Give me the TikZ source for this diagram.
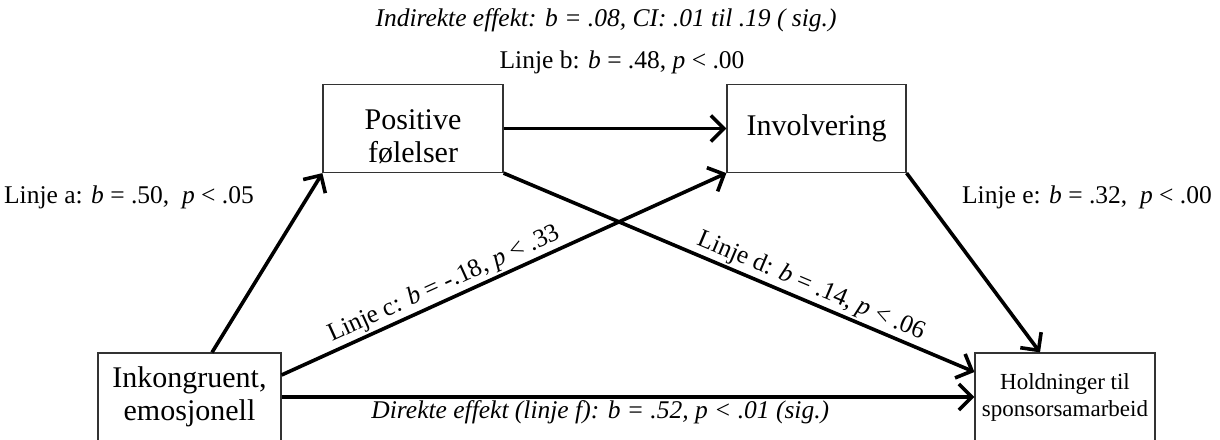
\documentclass[tikz,border=0pt]{standalone}
\usepackage{fontspec}
\setmainfont{Liberation Serif}
\usetikzlibrary{arrows.meta}
\begin{document}
\begin{tikzpicture}[x=1pt,y=-1pt,
  box/.style={draw=black!80, line width=1.2pt, rectangle, minimum width=180pt, minimum height=88pt, align=center, inner sep=0pt},
  bigtxt/.style={font=\fontsize{30}{33}\selectfont},
  smalltxt/.style={font=\fontsize{23}{27}\selectfont},
  lab/.style={font=\fontsize{25.5}{30}\selectfont, inner sep=2pt},
  conn/.style={line width=3.6pt, -{Straight Barb[length=13pt,width=26pt]}}
]
\useasboundingbox (0,0) rectangle (1220,439);
\clip (0,0) rectangle (1220,439);

\node[box,bigtxt] (pos) at (413,128.5) {\rule{0pt}{36pt}Positive\\følelser};
\node[box,bigtxt,minimum width=179pt] (inv) at (816.5,128.5) {Involvering};
\node[box,bigtxt,minimum width=183pt] (ink) at (189.5,397) {Inkongruent,\\emosjonell};
\node[box,smalltxt] (hold) at (1065,397) {Holdninger til\\sponsorsamarbeid};

\draw[conn] ([xshift=22.5pt]ink.north) -- (pos.south west);
\draw[conn] (pos.east) -- (inv.west);
\draw[conn] ([yshift=22pt]ink.east) -- node[lab,sloped,above,pos=0.38]{Linje c: \textit{b} = -.18, \textit{p} < .33} (inv.south west);
\draw[conn] (pos.south east) -- node[lab,sloped,above,pos=0.64]{Linje d: \textit{b} = .14, \textit{p} < .06} ([yshift=25pt]hold.west);
\draw[conn] (inv.south east) -- ([xshift=-25pt]hold.north);
\draw[conn] (ink.east) -- node[lab,below,pos=0.46]{\textit{Direkte effekt (linje f): b = .52, p < .01 (sig.)}} (hold.west);

\node[lab,font=\fontsize{25.5}{30}\selectfont\itshape] (ind) at (606,20) {Indirekte effekt: b = .08, CI: .01 til .19 ( sig.)};
\node[lab] (lb) at (622,62) {Linje b: \textit{b} = .48, \textit{p} < .00};
\node[lab] (la) at (129,197) {Linje a: \textit{b} = .50,\ \ \textit{p} < .05};
\node[lab] (le) at (1087,197) {Linje e: \textit{b} = .32,\ \ \textit{p} < .00};
\end{tikzpicture}
\end{document}
